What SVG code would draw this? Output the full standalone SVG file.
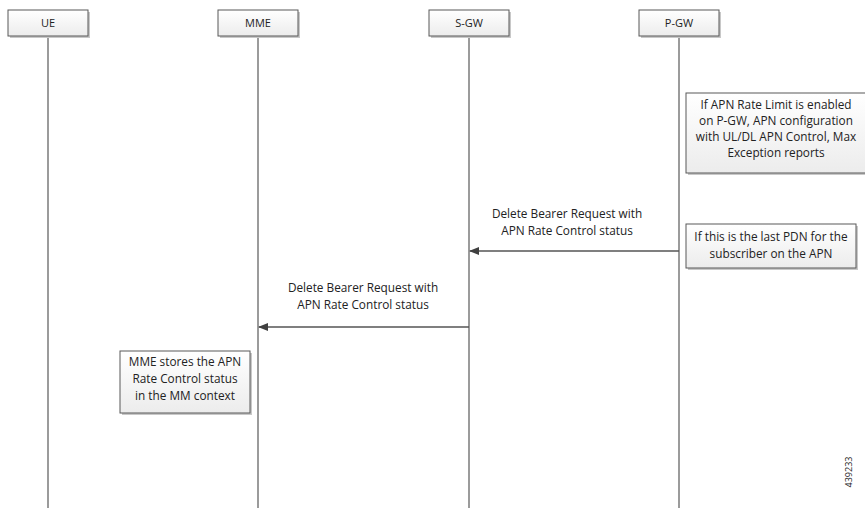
<svg xmlns="http://www.w3.org/2000/svg" width="865" height="508" viewBox="0 0 865 508">
<defs>
<linearGradient id="g" x1="0" y1="0" x2="0" y2="1"><stop offset="0" stop-color="#ffffff"/><stop offset="1" stop-color="#ececec"/></linearGradient>
<marker id="ah" markerWidth="10" markerHeight="8" refX="9" refY="4" orient="auto" markerUnits="userSpaceOnUse"><path d="M0,0 L10,4 L0,8 Z" fill="#404040"/></marker>
<style>
.box{fill:url(#g);stroke:#595959;stroke-width:1}
.sh{fill:#c8c8c8}
.life{stroke:#7a7a7a;stroke-width:1.5;fill:none}
.msg{stroke:#555;stroke-width:1.3;fill:none}
text{font-family:"Open Sans","Liberation Sans",sans-serif;font-size:11.8px;fill:#222;text-anchor:middle}
.hd{font-size:11px}
</style>
</defs>
<rect width="865" height="508" fill="#fff"/>
<g id="lifelines">
<line class="life" x1="48" y1="37" x2="48" y2="508"/>
<line class="life" x1="258" y1="37" x2="258" y2="508"/>
<line class="life" x1="469" y1="37" x2="469" y2="508"/>
<line class="life" x1="679" y1="37" x2="679" y2="508"/>
</g>
<g id="UE"><rect class="sh" x="10" y="12" width="80" height="26"/><rect class="box" x="8" y="10" width="80" height="26"/><text class="hd" x="48" y="27">UE</text></g>
<g id="MME"><rect class="sh" x="220" y="12" width="80" height="26"/><rect class="box" x="218" y="10" width="80" height="26"/><text class="hd" x="258" y="27">MME</text></g>
<g id="SGW"><rect class="sh" x="431" y="12" width="80" height="26"/><rect class="box" x="429" y="10" width="80" height="26"/><text class="hd" x="469" y="27">S-GW</text></g>
<g id="PGW"><rect class="sh" x="641" y="12" width="80" height="26"/><rect class="box" x="639" y="10" width="80" height="26"/><text class="hd" x="679" y="27">P-GW</text></g>
<g id="note1"><rect class="sh" x="688" y="95" width="180" height="80"/><rect class="box" x="686" y="93" width="180" height="80"/>
<text x="776" y="109">If APN Rate Limit is enabled</text><text x="776" y="125">on P-GW, APN configuration</text><text x="776" y="141">with UL/DL APN Control, Max</text><text x="776" y="157">Exception reports</text></g>
<g id="note2"><rect class="sh" x="688" y="226" width="170" height="44"/><rect class="box" x="686" y="224" width="170" height="44"/>
<text x="771" y="241">If this is the last PDN for the</text><text x="771" y="258">subscriber on the APN</text></g>
<g id="note3"><rect class="sh" x="122" y="353" width="130" height="62"/><rect class="box" x="120" y="351" width="130" height="62"/>
<text x="185" y="366">MME stores the APN</text><text x="185" y="383">Rate Control status</text><text x="185" y="400">in the MM context</text></g>
<g id="connectors">
<line class="msg" x1="679" y1="251" x2="470" y2="251" marker-end="url(#ah)"/>
<line class="msg" x1="469" y1="327" x2="259" y2="327" marker-end="url(#ah)"/>
</g>
<g id="labels">
<text x="567" y="218">Delete Bearer Request with</text><text x="567" y="235">APN Rate Control status</text>
<text x="363" y="292">Delete Bearer Request with</text><text x="363" y="309">APN Rate Control status</text>
</g>
<text x="0" y="0" transform="translate(852,472) rotate(-90)" style="font-size:9px">439233</text>
</svg>
